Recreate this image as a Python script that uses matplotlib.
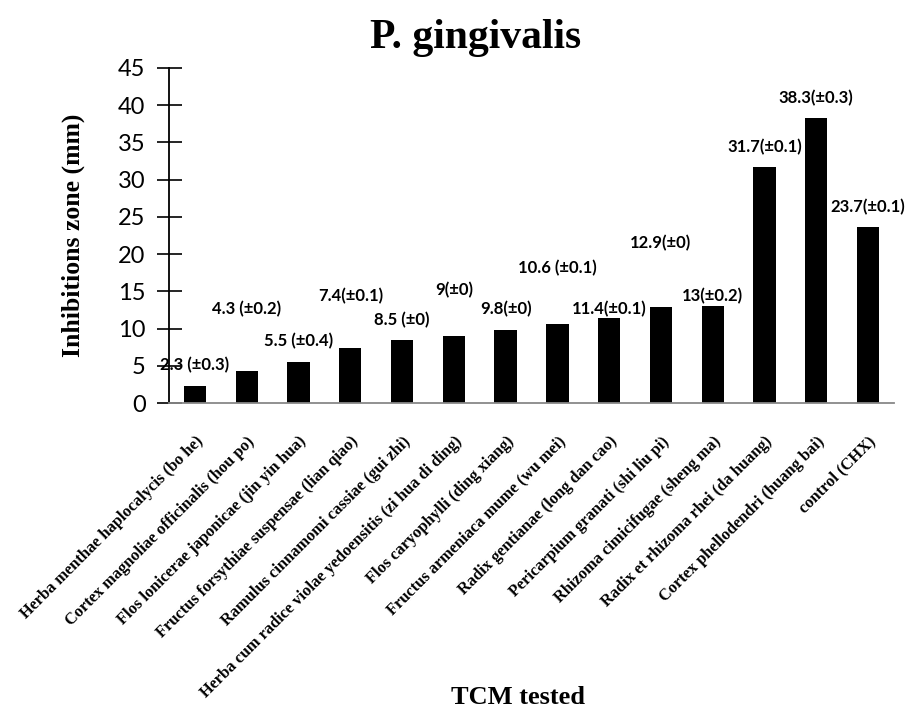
import numpy as np
import matplotlib
matplotlib.use('Agg')
import matplotlib.pyplot as plt

# Data
herbs = [
    'Herba menthae haplocalycis (bo he)',
    'Cortex magnoliae officinalis (hou po)',
    'Flos lonicerae japonicae (jin yin hua)',
    'Fructus forsythiae suspensae (lian qiao)',
    'Ramulus cinnamomi cassiae (gui zhi)',
    'Herba cum radice violae yedoensitis (zi hua di ding)',
    'Flos caryophylli (ding xiang)',
    'Fructus armeniaca mume (wu mei)',
    'Radix gentianae (long dan cao)',
    'Pericarpium granati (shi liu pi)',
    'Rhizoma cimicifugae (sheng ma)',
    'Radix et rhizoma rhei (da huang)',
    'Cortex phellodendri (huang bai)',
    'control (CHX)',
]
zone_mm = [2.3, 4.3, 5.5, 7.4, 8.5, 9, 9.8, 10.6, 11.4, 12.9, 13, 31.7, 38.3, 23.7]
value_labels = ['2.3 (\u00b10.3)', '4.3 (\u00b10.2)', '5.5 (\u00b10.4)', '7.4(\u00b10.1)',
                '8.5 (\u00b10)', '9(\u00b10)', '9.8(\u00b10)', '10.6 (\u00b10.1)',
                '11.4(\u00b10.1)', '12.9(\u00b10)', '13(\u00b10.2)', '31.7(\u00b10.1)',
                '38.3(\u00b10.3)', '23.7(\u00b10.1)']
# heights (in mm on the y scale) where each label sits
label_y = [5.1, 12.6, 8.3, 14.4, 11.2, 15.1, 12.6, 18.1, 12.6, 21.5, 14.4, 34.4, 41.0, 26.3]

fig = plt.figure(figsize=(9.07, 7.18), dpi=100)
ax = fig.add_axes([0.1865, 0.4387, 0.799, 0.4666])

x = np.arange(len(herbs))
ax.bar(x, zone_mm, width=0.43, color='black')

for xi, txt, ly in zip(x, value_labels, label_y):
    ax.text(xi, ly, txt, ha='center', va='center', fontsize=12,
            fontweight='bold', family='Lato')

ax.set_xlim(-0.5, len(herbs) - 0.5)
ax.set_ylim(0, 45)
ax.set_yticks(np.arange(0, 46, 5))
ax.tick_params(axis='y', direction='inout', length=18, width=1.2, labelsize=17, pad=8)
for lab in ax.get_yticklabels():
    lab.set_family('Lato')

ax.set_xticks(x)
ax.set_xticklabels(herbs, rotation=45, ha='right', rotation_mode='anchor',
                   family='Liberation Serif', fontsize=11.8, fontweight='bold')
ax.tick_params(axis='x', length=0, pad=22)

ax.spines['top'].set_visible(False)
ax.spines['right'].set_visible(False)
ax.spines['left'].set_linewidth(1.3)
ax.spines['bottom'].set_color('#888888')
ax.spines['bottom'].set_linewidth(1.3)

ax.set_ylabel('Inhibitions zone (mm)', family='Liberation Serif', fontsize=18.5,
              fontweight='bold', labelpad=24)
fig.text(518 / 907, 1 - 698 / 718, 'TCM tested', ha='center', va='center',
         family='Liberation Serif', fontsize=19, fontweight='bold')
fig.text(476 / 907, 1 - 38 / 718, 'P. gingivalis', ha='center', va='center',
         family='Liberation Serif', fontsize=30, fontweight='bold')

fig.savefig('out.png', dpi=100)
